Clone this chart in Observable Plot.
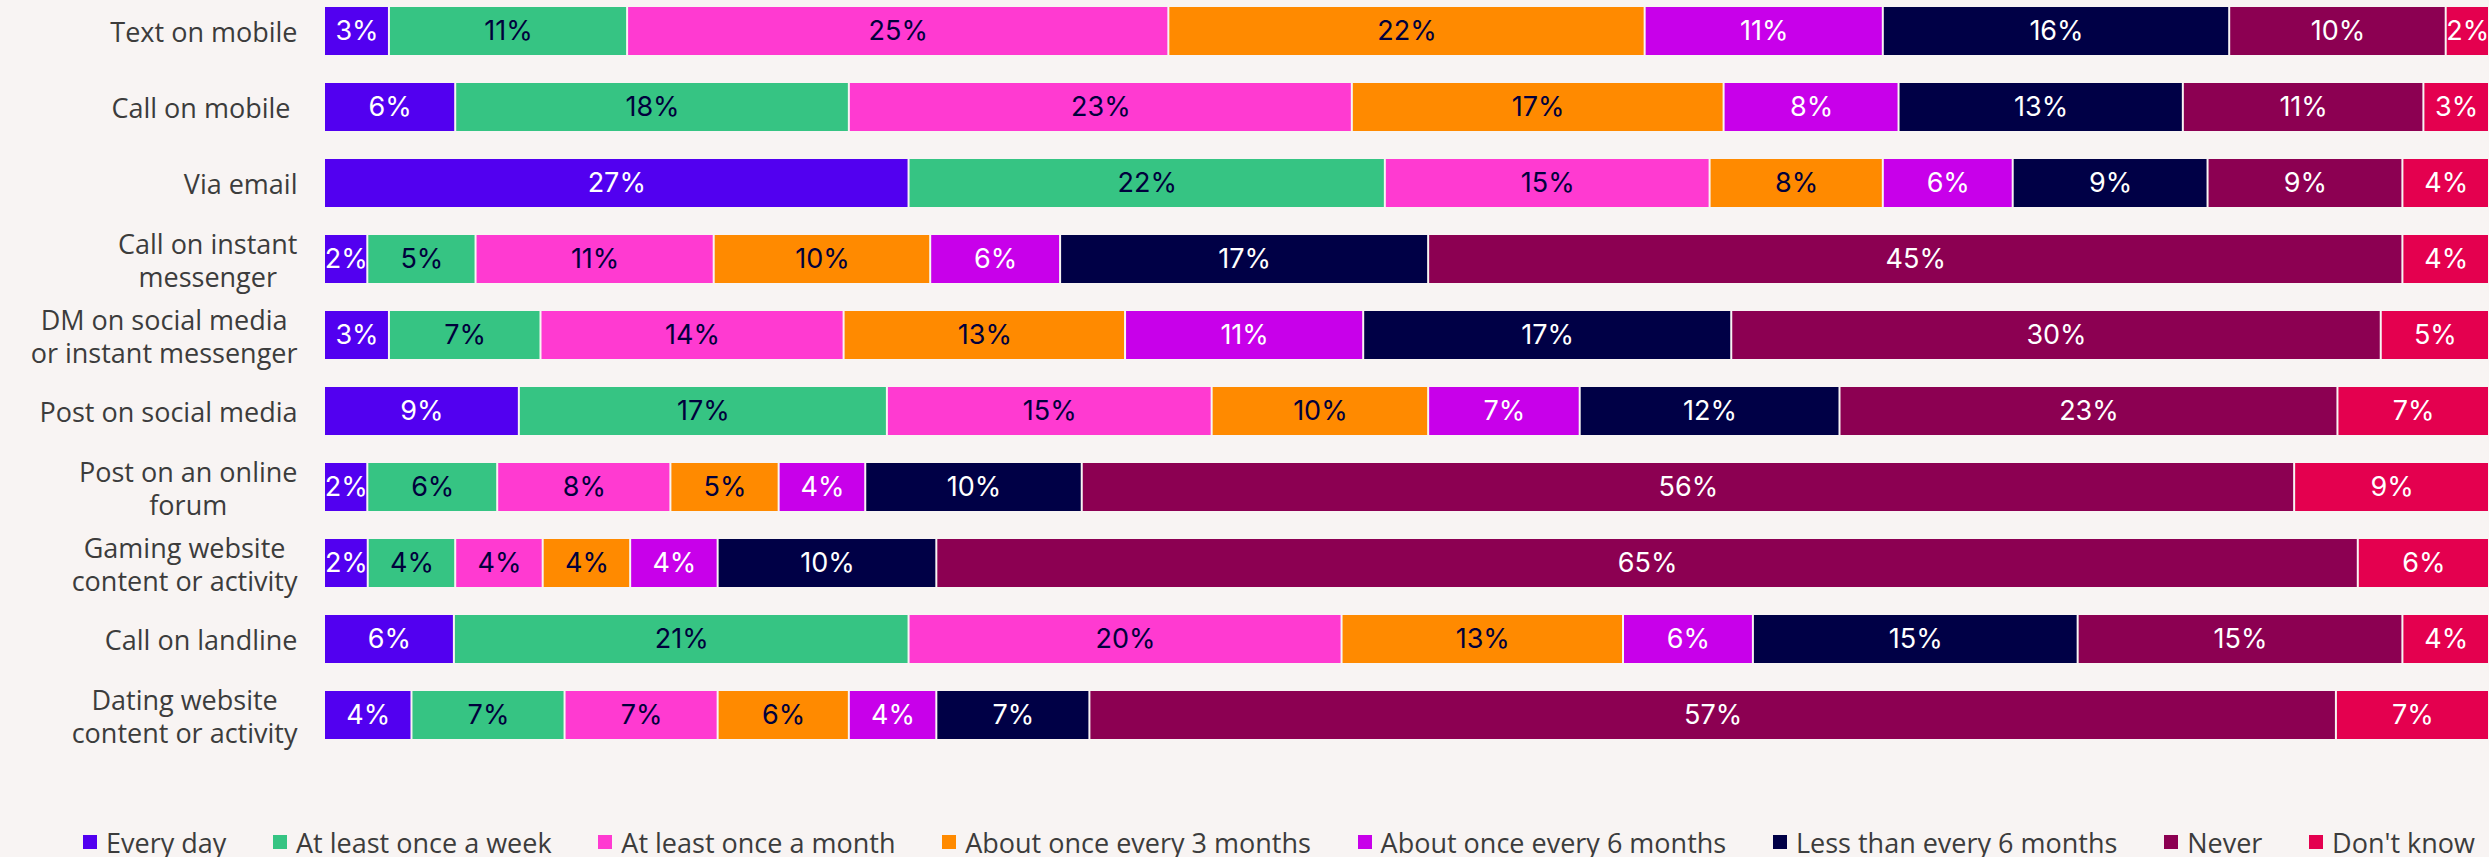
<!DOCTYPE html>
<html><head><meta charset="utf-8">
<script src="https://cdn.jsdelivr.net/npm/d3@7"></script>
<script src="https://cdn.jsdelivr.net/npm/@observablehq/plot@0.6"></script>
<style>
html,body{margin:0;padding:0;background:#f8f4f3;overflow:hidden;}
#chart svg{display:block;background:#f8f4f3;}
.legend{display:flex;justify-content:space-between;align-items:center;box-sizing:content-box;padding:37px 14px 0 83px;height:30px;font-family:'Open Sans',sans-serif;font-size:27px;color:#3c3c3c;}
.legend .item{display:flex;align-items:center;white-space:nowrap}
.legend i{display:inline-block;width:14px;height:14px;margin-right:9px}
</style></head><body>
<div id="chart"></div>
<div class="legend" id="legend"></div>
<script>
const categories = [
  "Text on mobile",
  "Call on mobile\u00a0",
  "Via email",
  "Call on instant\nmessenger",
  "DM on social media\nor instant messenger",
  "Post on social media",
  "Post on an online\nforum",
  "Gaming website\ncontent or activity",
  "Call on landline",
  "Dating website\ncontent or activity"
];
const responses = [
  "Every day", "At least once a week", "At least once a month", "About once every 3 months",
  "About once every 6 months", "Less than every 6 months", "Never", "Don't know"
];
const colors = ["#5200f0", "#36c483", "#ff3ad1", "#ff8a00", "#c800ea", "#000046", "#8c0052", "#e4004f"];
const whiteText = ["Every day", "About once every 6 months", "Less than every 6 months", "Never", "Don't know"];

const everyDay    = [3, 6, 27, 2, 3, 9, 2, 2, 6, 4];
const weekly      = [11, 18, 22, 5, 7, 17, 6, 4, 21, 7];
const monthly     = [25, 23, 15, 11, 14, 15, 8, 4, 20, 7];
const threeMonths = [22, 17, 8, 10, 13, 10, 5, 4, 13, 6];
const sixMonths   = [11, 8, 6, 6, 11, 7, 4, 4, 6, 4];
const lessThanSix = [16, 13, 9, 17, 17, 12, 10, 10, 15, 7];
const never       = [10, 11, 9, 45, 30, 23, 56, 65, 15, 57];
const dontKnow    = [2, 3, 4, 4, 5, 7, 9, 6, 4, 7];

const series = [everyDay, weekly, monthly, threeMonths, sixMonths, lessThanSix, never, dontKnow];
const data = [];
categories.forEach((cat, i) => {
  responses.forEach((resp, j) => data.push({cat, resp, value: series[j][i]}));
});

const labelFont = "'Open Sans', sans-serif";
const labelSize = 27;
const valueFont = "Inter, sans-serif";
const ctx = document.createElement("canvas").getContext("2d");
ctx.font = `${labelSize}px ${labelFont}`;
const labelMarks = categories.map(cat => {
  const w = Math.max(...cat.split("\n").map(l => ctx.measureText(l).width));
  return Plot.text([cat], {
    y: d => d, text: d => d, frameAnchor: "left", textAnchor: "middle",
    dx: -27 - w / 2, fontSize: labelSize, fontFamily: labelFont, fill: "#3c3c3c",
    lineHeight: 1.23, lineAnchor: "middle"
  });
});

const stackOpts = {x: "value", y: "cat", z: "resp", offset: "normalize"};
const chart = Plot.plot({
  width: 2489,
  height: 790,
  marginLeft: 324,
  marginRight: 0,
  marginTop: 0,
  marginBottom: 44,
  style: {background: "#f8f4f3"},
  x: {axis: null, domain: [0, 1]},
  y: {axis: null, domain: categories, paddingInner: 0.368, paddingOuter: 0.09},
  color: {domain: responses, range: colors},
  marks: [
    Plot.barX(data, Plot.stackX({...stackOpts, fill: "resp", insetLeft: 1, insetRight: 1})),
    Plot.text(data, Plot.stackX({...stackOpts,
      text: d => whiteText.includes(d.resp) ? "" : d.value + "%",
      fill: "#00003c", fontSize: 27, fontFamily: valueFont})),
    Plot.text(data, Plot.stackX({...stackOpts,
      text: d => whiteText.includes(d.resp) ? d.value + "%" : "",
      fill: "white", fontSize: 27, fontFamily: valueFont})),
    ...labelMarks
  ]
});
document.getElementById("chart").appendChild(chart);

const legend = document.getElementById("legend");
responses.forEach((r, i) => {
  const item = document.createElement("span");
  item.className = "item";
  const sw = document.createElement("i");
  sw.style.background = colors[i];
  item.appendChild(sw);
  item.appendChild(document.createTextNode(r));
  legend.appendChild(item);
});
</script>
</body></html>
